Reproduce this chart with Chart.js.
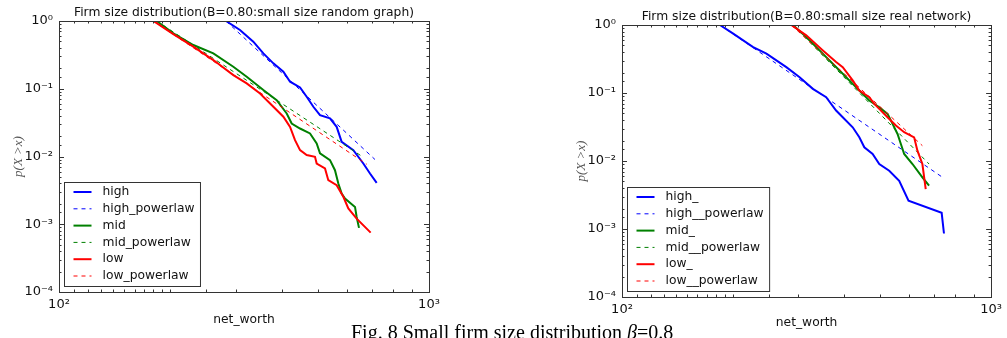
<!DOCTYPE html>
<html>
<head>
<meta charset="utf-8">
<script src="https://cdn.jsdelivr.net/npm/chart.js@4.4.0/dist/chart.umd.min.js"></script>
<style>
  html, body { margin: 0; padding: 0; background: #fff; overflow: hidden; }
  body { width: 1007px; height: 338px; position: relative; }
  canvas { position: absolute; top: 0; }
  #left { left: 0; }
  #right { left: 503px; }
  #caption { position: absolute; left: 351px; top: 322px; font-family: 'Liberation Serif'; font-size: 20px;
             line-height: 20px; white-space: nowrap; color: #000; }
</style>
</head>
<body>
<canvas id="left" width="503" height="338"></canvas>
<canvas id="right" width="504" height="338"></canvas>
<div id="caption">Fig. 8 Small firm size distribution <i>β</i>=0.8</div>
<script>
// ---- left panel: random graph ----
const rgHighX = [282.7, 308.4, 335.1, 356.7, 379.6, 404.0, 421.2, 448.2, 467.1, 486.9, 507.5, 540.0, 562.9, 580.7, 624.5, 664.5, 692.7, 722.1];
const rgHighY = [1, 0.736, 0.495, 0.333, 0.237, 0.178, 0.127, 0.1047, 0.0762, 0.0542, 0.0408, 0.0365, 0.0274, 0.0165, 0.0124, 0.00788, 0.00561, 0.00408];
const rgHighFitX = [282.7, 714.5];
const rgHighFitY = [1, 0.00903];

const rgMidX = [183.6, 203.7, 230.7, 261.3, 295.9, 321.6, 356.7, 387.6, 412.5, 425.5, 448.2, 476.9, 497.1, 507.5, 540.0, 557.0, 568.8, 580.7, 592.9, 631.0, 637.5, 646.9];
const rgMidY = [1, 0.657, 0.442, 0.333, 0.211, 0.150, 0.0956, 0.068, 0.0432, 0.0307, 0.0259, 0.0219, 0.0156, 0.0111, 0.00883, 0.00628, 0.00399, 0.00284, 0.00239, 0.0018, 0.00128, 0.000883];
const rgMidFitX = [183.6, 661.8];
const rgMidFitY = [1, 0.00989];

const rgLowX = [179.9, 203.7, 230.7, 261.3, 295.9, 321.6, 349.4, 379.6, 404.0, 421.2, 434.4, 448.2, 467.1, 491.9, 497.1, 523.5, 534.4, 562.9, 586.8, 605.3, 637.5, 695.6];
const rgLowY = [1, 0.64, 0.418, 0.265, 0.159, 0.120, 0.0853, 0.0542, 0.0386, 0.0274, 0.0174, 0.0124, 0.0105, 0.00989, 0.00788, 0.00665, 0.00447, 0.00377, 0.00254, 0.00171, 0.00121, 0.000753];
const rgLowFitX = [179.9, 678.6];
const rgLowFitY = [1, 0.0077];

// ---- right panel: real network ----
const rnHighX = [184.2, 200.1, 226.6, 246.2, 278.7, 302.8, 328.9, 357.4, 380.2, 396.3, 421.7, 439.5, 453.4, 477.5, 497.7, 529.6, 563.6, 597.3, 734.5, 745.2];
const rnHighY = [1, 0.745, 0.474, 0.378, 0.240, 0.171, 0.115, 0.0868, 0.0552, 0.044, 0.0313, 0.0223, 0.0159, 0.0127, 0.00903, 0.0072, 0.00513, 0.0026, 0.00173, 0.000859];
const rnHighFitX = [184.2, 734.5];
const rnHighFitY = [1, 0.00587];

const rnMidX = [290.5, 315.6, 342.8, 372.4, 396.3, 421.7, 439.5, 467.7, 497.7, 524.2, 540.7, 557.8, 569.5, 581.4, 612.3, 651.3, 679.0];
const rnMidY = [1, 0.665, 0.423, 0.269, 0.192, 0.136, 0.109, 0.0775, 0.0618, 0.0493, 0.0351, 0.025, 0.0178, 0.0127, 0.00903, 0.00574, 0.00433];
const rnMidFitX = [290.5, 679.0];
const rnMidFitY = [1, 0.00903];

const rnLowX = [287.5, 315.6, 350.1, 380.2, 396.3, 421.7, 439.5, 467.7, 482.5, 497.7, 524.2, 552.0, 581.4, 618.6, 631.5, 651.3, 665.0];
const rnLowY = [1, 0.704, 0.423, 0.285, 0.240, 0.153, 0.109, 0.0868, 0.0692, 0.0584, 0.044, 0.0332, 0.0265, 0.0223, 0.0142, 0.00903, 0.00386];
const rnLowFitX = [287.5, 651.3];
const rnLowFitY = [1, 0.0168];

const BLUE = '#0000ff', GREEN = '#008000', RED = '#ff0000';
const SUP = {'-': '⁻', '0': '⁰', '1': '¹', '2': '²', '3': '³', '4': '⁴'};

function pts(xs, ys) {
    return xs.map((x, i) => ({x: x, y: ys[i]}));
}

function isPow10(v) {
    const e = Math.log10(v);
    return Math.abs(e - Math.round(e)) < 1e-9;
}

function powLabel(v) {
    if (!isPow10(v)) return '';
    const e = Math.round(Math.log10(v));
    return '10' + String(e).split('').map(c => SUP[c]).join('');
}

function series(label, xs, ys, color, dashed, order) {
    return {
        label: label,
        data: pts(xs, ys),
        borderColor: color,
        backgroundColor: color,
        borderWidth: dashed ? 1 : 2,
        borderDash: dashed ? [4, 4] : [],
        pointRadius: 0,
        showLine: true,
        tension: 0,
        order: order
    };
}

// title centred over the plot area (not the whole canvas)
const panelTitle = {
    id: 'panelTitle',
    afterDraw(chart, args, opts) {
        const {ctx, chartArea: a} = chart;
        ctx.save();
        ctx.font = '12.3px "DejaVu Sans"';
        ctx.fillStyle = '#111';
        ctx.textAlign = 'center';
        ctx.textBaseline = 'middle';
        ctx.fillText(opts.text, (a.left + a.right) / 2, opts.y);
        ctx.restore();
    }
};

// frame with inward ticks on all four sides, like the matplotlib original
const frameTicks = {
    id: 'frameTicks',
    afterDatasetsDraw(chart) {
        const {ctx, chartArea: a, scales} = chart;
        ctx.save();
        ctx.strokeStyle = '#333';
        ctx.lineWidth = 1;
        ctx.beginPath();
        scales.x.ticks.forEach(t => {
            const px = Math.round(scales.x.getPixelForValue(t.value)) + 0.5;
            const len = isPow10(t.value) ? 5 : 2.5;
            ctx.moveTo(px, a.bottom); ctx.lineTo(px, a.bottom - len);
            ctx.moveTo(px, a.top); ctx.lineTo(px, a.top + len);
        });
        scales.y.ticks.forEach(t => {
            const py = Math.round(scales.y.getPixelForValue(t.value)) + 0.5;
            const len = isPow10(t.value) ? 5 : 2.5;
            ctx.moveTo(a.left, py); ctx.lineTo(a.left + len, py);
            ctx.moveTo(a.right, py); ctx.lineTo(a.right - len, py);
        });
        ctx.stroke();
        ctx.strokeRect(Math.round(a.left) + 0.5, Math.round(a.top) + 0.5,
                       Math.round(a.right - a.left), Math.round(a.bottom - a.top));
        ctx.restore();
    }
};

// boxed legend in the lower left corner of the plot area
const legendBox = {
    id: 'legendBox',
    afterDraw(chart) {
        const {ctx, chartArea: a} = chart;
        const sets = chart.data.datasets;
        ctx.save();
        ctx.font = '12.3px "DejaVu Sans"';
        const textW = Math.max(...sets.map(d => ctx.measureText(d.label).width));
        const w = 38 + textW + 6, h = 104, rowH = 16.8;
        const x = Math.round(a.left + 5) + 0.5, y = Math.round(a.bottom - 6 - h) + 0.5;
        ctx.fillStyle = '#fff';
        ctx.fillRect(x, y, w, h);
        ctx.strokeStyle = '#333';
        ctx.lineWidth = 1;
        ctx.strokeRect(x, y, w, h);
        sets.forEach((d, i) => {
            const cy = y + 9.5 + i * rowH;
            ctx.beginPath();
            ctx.strokeStyle = d.borderColor;
            ctx.lineWidth = d.borderWidth;
            ctx.setLineDash(d.borderDash);
            ctx.moveTo(x + 9, cy);
            ctx.lineTo(x + 27, cy);
            ctx.stroke();
            ctx.setLineDash([]);
            ctx.fillStyle = '#111';
            ctx.textBaseline = 'middle';
            ctx.fillText(d.label, x + 38, cy);
        });
        ctx.restore();
    }
};

function makeChart(id, p) {
    new Chart(document.getElementById(id), {
        type: 'scatter',
        data: {datasets: p.datasets},
        options: {
            responsive: false,
            animation: false,
            devicePixelRatio: 1,
            layout: {padding: {left: p.padLeft, right: p.padRight, top: p.padTop, bottom: 0}},
            plugins: {
                legend: {display: false},
                tooltip: {enabled: false},
                title: {display: false},
                panelTitle: {text: p.title, y: p.titleY}
            },
            scales: {
                x: {
                    type: 'logarithmic', min: 100, max: 1000,
                    afterFit: s => { s.height = p.xHeight; },
                    grid: {display: false, drawTicks: false},
                    border: {display: false},
                    ticks: {autoSkip: false, maxRotation: 0, padding: 5, color: '#111',
                            font: {family: 'DejaVu Sans', size: 13}, callback: v => powLabel(v)},
                    title: {display: true, text: 'net_worth', color: '#111',
                            font: {family: 'DejaVu Sans', size: 12.3},
                            padding: {top: 0, bottom: p.xTitlePad}}
                },
                y: {
                    type: 'logarithmic', min: 1e-4, max: 1,
                    afterFit: s => { s.width = 59; },
                    grid: {display: false, drawTicks: false},
                    border: {display: false},
                    ticks: {autoSkip: false, padding: 6, color: '#111',
                            font: {family: 'DejaVu Sans', size: 13}, callback: v => powLabel(v)},
                    title: {display: true, text: 'p(X >x)', color: '#555',
                            font: {family: 'Liberation Serif', style: 'italic', size: 13},
                            padding: {top: 11, bottom: 0}}
                }
            }
        },
        plugins: [frameTicks, legendBox, panelTitle]
    });
}

makeChart('left', {
    title: 'Firm size distribution(B=0.80:small size random graph)',
    padLeft: 0, padRight: 74, padTop: 21, titleY: 12.5,
    xHeight: 46, xTitlePad: 10.8,
    datasets: [
        series('high', rgHighX, rgHighY, BLUE, false, 6),
        series('high_powerlaw', rgHighFitX, rgHighFitY, BLUE, true, 5),
        series('mid', rgMidX, rgMidY, GREEN, false, 4),
        series('mid_powerlaw', rgMidFitX, rgMidFitY, GREEN, true, 3),
        series('low', rgLowX, rgLowY, RED, false, 2),
        series('low_powerlaw', rgLowFitX, rgLowFitY, RED, true, 1)
    ]
});

makeChart('right', {
    title: 'Firm size distribution(B=0.80:small size real network)',
    padLeft: 60, padRight: 14, padTop: 25, titleY: 16.5,
    xHeight: 41, xTitlePad: 7.5,
    datasets: [
        series('high_', rnHighX, rnHighY, BLUE, false, 6),
        series('high__powerlaw', rnHighFitX, rnHighFitY, BLUE, true, 5),
        series('mid_', rnMidX, rnMidY, GREEN, false, 4),
        series('mid__powerlaw', rnMidFitX, rnMidFitY, GREEN, true, 3),
        series('low_', rnLowX, rnLowY, RED, false, 2),
        series('low__powerlaw', rnLowFitX, rnLowFitY, RED, true, 1)
    ]
});
</script>
</body>
</html>
